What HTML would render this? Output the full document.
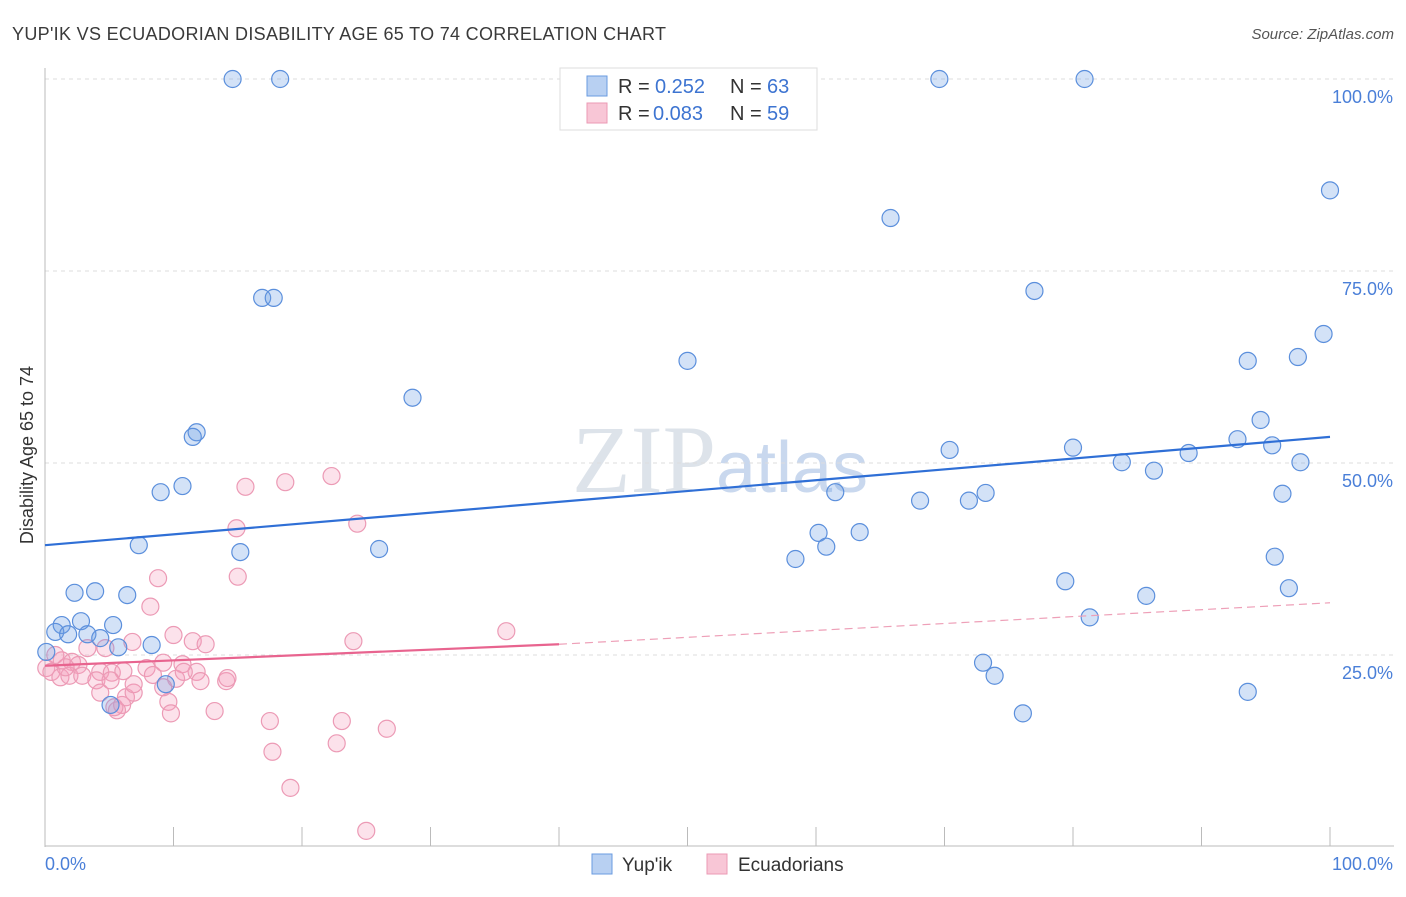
<!DOCTYPE html>
<html><head><meta charset="utf-8"><style>
body{margin:0;background:#fff;font-family:"Liberation Sans",sans-serif}
</style></head><body>
<svg id="chart" width="1406" height="892" xmlns="http://www.w3.org/2000/svg">
<text x="12" y="40" font-size="18" fill="#3a3a3a" textLength="654">YUP'IK VS ECUADORIAN DISABILITY AGE 65 TO 74 CORRELATION CHART</text>
<text x="1394" y="39" font-size="15" fill="#555" font-style="italic" text-anchor="end">Source: ZipAtlas.com</text>
<text x="720" y="492" font-size="96" fill="#dde3ea" text-anchor="middle" font-family="Liberation Serif,serif">ZIP<tspan fill="#c9d8ee" font-family="Liberation Sans,sans-serif" font-size="72">atlas</tspan></text>
<g id="grid"></g><g id="axes"></g><g id="pts"></g><g id="lines"></g>
<text transform="translate(33,455) rotate(-90)" font-size="18" fill="#333" text-anchor="middle">Disability Age 65 to 74</text>
<g>
<rect x="560" y="68" width="257" height="62" fill="#fff" stroke="#ddd"/>
<rect x="587" y="76" width="20" height="20" fill="#b8d0f2" stroke="#6a9be0"/>
<rect x="587" y="103" width="20" height="20" fill="#f8c6d6" stroke="#eb9ab4"/>
<text x="618" y="93" font-size="20" fill="#333">R =</text>
<text x="655" y="93" font-size="20" fill="#3d74d1">0.252</text>
<text x="730" y="93" font-size="20" fill="#333">N =</text>
<text x="767" y="93" font-size="20" fill="#3d74d1">63</text>
<text x="618" y="120" font-size="20" fill="#333">R =</text>
<text x="653" y="120" font-size="20" fill="#3d74d1">0.083</text>
<text x="730" y="120" font-size="20" fill="#333">N =</text>
<text x="767" y="120" font-size="20" fill="#3d74d1">59</text>
</g>
<g>
<rect x="592" y="854" width="20" height="20" fill="#b8d0f2" stroke="#6a9be0"/>
<text x="622" y="871" font-size="19" fill="#333">Yup'ik</text>
<rect x="707" y="854" width="20" height="20" fill="#f8c6d6" stroke="#eb9ab4"/>
<text x="738" y="871" font-size="19" fill="#333">Ecuadorians</text>
</g>
</svg>
<script>
const yTicks=[25,50,75,100];
const yTickLabels=["25.0%","50.0%","75.0%","100.0%"];
const xTicks=[0,10,20,30,40,50,60,70,80,90,100];
const blueX=[14.6,18.3,69.6,80.9,100,65.8,16.9,17.8,77,99.5,50,93.6,97.5,28.6,94.6,11.8,11.5,70.4,80,92.8,95.5,89,83.8,86.3,97.7,10.7,9,61.5,73.2,68.1,71.9,96.3,7.3,15.2,26,60.2,63.4,60.8,58.4,95.7,2.3,3.9,6.4,79.4,96.8,85.7,81.3,2.8,1.3,5.3,0.8,1.8,3.3,4.3,8.3,5.7,0.1,73,73.9,9.4,5.1,93.6,76.1];
const blueY=[100,100,100,100,85.5,81.9,71.5,71.5,72.4,66.8,63.3,63.3,63.8,58.5,55.6,54.0,53.4,51.7,52.0,53.1,52.3,51.3,50.1,49.0,50.1,47.0,46.2,46.2,46.1,45.1,45.1,46.0,39.3,38.4,38.8,40.9,41.0,39.1,37.5,37.8,33.1,33.3,32.8,34.6,33.7,32.7,29.9,29.4,28.9,28.9,28.0,27.7,27.7,27.2,26.3,26.0,25.4,24.0,22.3,21.2,18.5,20.2,17.4];
const pinkX=[8.8,8.2,14.9,15.6,18.7,22.3,24.3,15,35.9,24,10,11.5,12.5,6.8,4.7,3.3,0.8,1.3,2.1,2.6,0.1,0.5,1.2,1.9,2.9,4.3,5.2,6.1,7.9,8.4,9.2,10.2,10.7,11.8,12.1,10.8,14.1,14.2,4,4.3,6.3,6.9,6,5.6,5.4,9.6,9.8,13.2,9.2,6.9,17.5,17.7,19.1,23.1,22.7,26.6,25,5.1,1.6];
const pinkY=[35.0,31.3,41.5,46.9,47.5,48.3,42.1,35.2,28.1,26.8,27.6,26.8,26.4,26.7,25.9,25.9,25.0,24.3,24.1,23.7,23.3,22.8,22.1,22.3,22.3,22.8,22.7,22.9,23.3,22.4,24.0,21.9,23.8,22.8,21.6,22.8,21.6,22.0,21.7,20.1,19.5,20.1,18.5,17.8,18.2,18.9,17.4,17.7,20.8,21.2,16.4,12.4,7.7,16.4,13.5,15.4,2.1,21.7,23.4];
const blueLine=[[0,39.3],[100,53.4]];
const pinkLine=[[0,23.6],[40,26.4],[100,31.8]];
const X=v=>45+v*12.85, Y=v=>847-v*7.68;
const NS="http://www.w3.org/2000/svg";
function mk(t,a,p){const e=document.createElementNS(NS,t);for(const k in a)e.setAttribute(k,a[k]);p.appendChild(e);return e;}
const grid=document.getElementById('grid'),axes=document.getElementById('axes'),pts=document.getElementById('pts'),lines=document.getElementById('lines');
yTicks.forEach((t,i)=>{
 const g=mk('line',{x1:45,x2:1394,y1:Y(t),y2:Y(t),stroke:'#ddd','stroke-dasharray':'4,4'},grid);
 
 
 const l=mk('text',{x:1393,y:Y(t)+24,'font-size':18,fill:'#4a7fd8','text-anchor':'end'},axes);
 l.textContent=yTickLabels[i];
 
 
});
mk('line',{x1:45,x2:45,y1:68,y2:847,stroke:'#bbb'},axes);
mk('line',{x1:45,x2:1394,y1:846,y2:846,stroke:'#bbb'},axes);
xTicks.forEach(t=>{const e=mk('line',{x1:X(t),x2:X(t),y1:827,y2:846,stroke:'#bbb'},axes);
 
 });
let a=mk('text',{x:45,y:870,'font-size':18,fill:'#4a7fd8'},axes);a.textContent='0.0%';


a=mk('text',{x:1393,y:870,'font-size':18,fill:'#4a7fd8','text-anchor':'end'},axes);a.textContent='100.0%';


pinkX.forEach((v,i)=>{const c=mk('circle',{cx:X(v),cy:Y(pinkY[i]),r:8.5,fill:'rgba(244,160,190,0.3)',stroke:'#ec9ab5','stroke-width':1.2},pts);
 
 });
blueX.forEach((v,i)=>{const c=mk('circle',{cx:X(v),cy:Y(blueY[i]),r:8.5,fill:'rgba(110,160,230,0.3)',stroke:'#5b8fdc','stroke-width':1.2},pts);
 
 });
let ln=mk('line',{x1:X(blueLine[0][0]),y1:Y(blueLine[0][1]),x2:X(blueLine[1][0]),y2:Y(blueLine[1][1]),stroke:'#2f6fd6','stroke-width':2.2},lines);


ln=mk('line',{x1:X(pinkLine[0][0]),y1:Y(pinkLine[0][1]),x2:X(pinkLine[1][0]),y2:Y(pinkLine[1][1]),stroke:'#e8648f','stroke-width':2.2},lines);


ln=mk('line',{x1:X(pinkLine[1][0]),y1:Y(pinkLine[1][1]),x2:X(pinkLine[2][0]),y2:Y(pinkLine[2][1]),stroke:'#eea0b8','stroke-width':1.2,'stroke-dasharray':'8,5'},lines);


</script>
</body></html>
